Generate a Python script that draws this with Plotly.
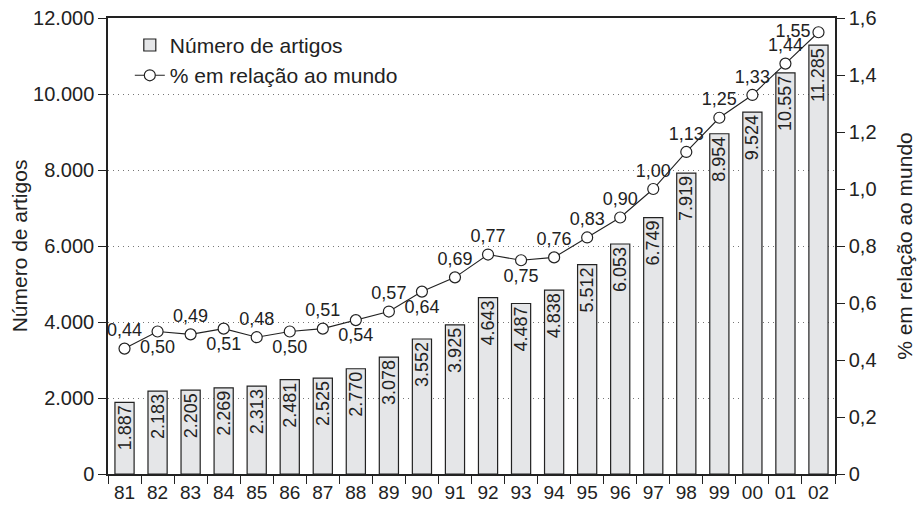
import plotly.graph_objects as go

# Produção científica: número de artigos e % em relação ao mundo
anos = ['81', '82', '83', '84', '85', '86', '87', '88', '89', '90', '91',
        '92', '93', '94', '95', '96', '97', '98', '99', '00', '01', '02']
artigos = [1887, 2183, 2205, 2269, 2313, 2481, 2525, 2770, 3078, 3552, 3925,
           4643, 4487, 4838, 5512, 6053, 6749, 7919, 8954, 9524, 10557, 11285]
pct_mundo = [0.44, 0.50, 0.49, 0.51, 0.48, 0.50, 0.51, 0.54, 0.57, 0.64, 0.69,
             0.77, 0.75, 0.76, 0.83, 0.90, 1.00, 1.13, 1.25, 1.33, 1.44, 1.55]
pct_ticks = [0, 0.2, 0.4, 0.6, 0.8, 1.0, 1.2, 1.4, 1.6]
pct_ticktext = ['0', '0,2', '0,4', '0,6', '0,8', '1,0', '1,2', '1,4', '1,6']

FONT = 'Liberation Sans, Arial, sans-serif'
INK = '#222222'

# labels alternate above / below the markers in the early years
label_pos = ['top center', 'bottom center'] * 5 + ['top center', 'top center', 'bottom center'] + \
            ['top center'] * 8 + ['middle left']

fig = go.Figure()
fig.add_trace(go.Bar(
    x=anos,
    y=artigos,
    name='Número de artigos',
    width=0.58,
    marker=dict(color='#e5e6e8', line=dict(color=INK, width=1.2)),
    texttemplate='%{y:,d}',
    textposition='inside',
    insidetextanchor='end',
    textangle=-90,
    textfont=dict(family=FONT, size=18, color=INK),
    cliponaxis=False,
))
fig.add_trace(go.Scatter(
    x=anos,
    y=pct_mundo,
    name='% em relação ao mundo',
    yaxis='y2',
    mode='lines+markers+text',
    line=dict(color=INK, width=1.1),
    marker=dict(symbol='circle', size=11, color='white',
                line=dict(color=INK, width=1.2)),
    texttemplate='%{y:.2f}',
    textposition=label_pos,
    textfont=dict(family=FONT, size=18, color=INK),
    cliponaxis=False,
))

fig.update_layout(
    width=919,
    height=505,
    margin=dict(l=108, r=84, t=18, b=31, autoexpand=False),
    separators=',.',
    plot_bgcolor='white',
    paper_bgcolor='white',
    font=dict(family=FONT, size=19, color=INK),
    showlegend=True,
    legend=dict(
        x=0.03, y=0.985, xanchor='left', yanchor='top',
        bgcolor='rgba(0,0,0,0)',
        font=dict(size=21),
        tracegroupgap=0,
    ),
    uniformtext=dict(minsize=18, mode='show'),
)
fig.update_xaxes(
    type='category',
    range=[-0.5, len(anos) - 0.5],
    tickson='boundaries',
    tickangle=0,
    ticks='outside',
    ticklen=8,
    tickcolor=INK,
    showline=True,
    linecolor=INK,
    linewidth=1.5,
    mirror=True,
    showgrid=False,
    automargin=False,
    tickfont=dict(size=19),
)
fig.update_layout(
    yaxis=dict(
        title=dict(text='Número de artigos', font=dict(size=21), standoff=0),
        range=[0, 12000],
        dtick=2000,
        tickformat=',d',
        ticks='outside',
        ticklen=8,
        tickcolor=INK,
        showline=True,
        linecolor=INK,
        linewidth=1.5,
        showgrid=True,
        gridcolor='#777777',
        griddash='1px,4px',
        gridwidth=1,
        zeroline=False,
        automargin=False,
        tickfont=dict(size=20),
    ),
    yaxis2=dict(
        title=dict(text='% em relação ao mundo', font=dict(size=21), standoff=22),
        overlaying='y',
        side='right',
        range=[0, 1.6],
        tickvals=pct_ticks,
        ticktext=pct_ticktext,
        ticks='outside',
        ticklen=8,
        tickcolor=INK,
        showline=True,
        linecolor=INK,
        linewidth=1.5,
        showgrid=False,
        zeroline=False,
        automargin=False,
        tickfont=dict(size=20),
    ),
)

# the page body has a default 8px margin; drop it so the figure fills the window
fig.write_html("out.html", config={'displayModeBar': False},
               post_script="document.body.style.margin = '0';")
